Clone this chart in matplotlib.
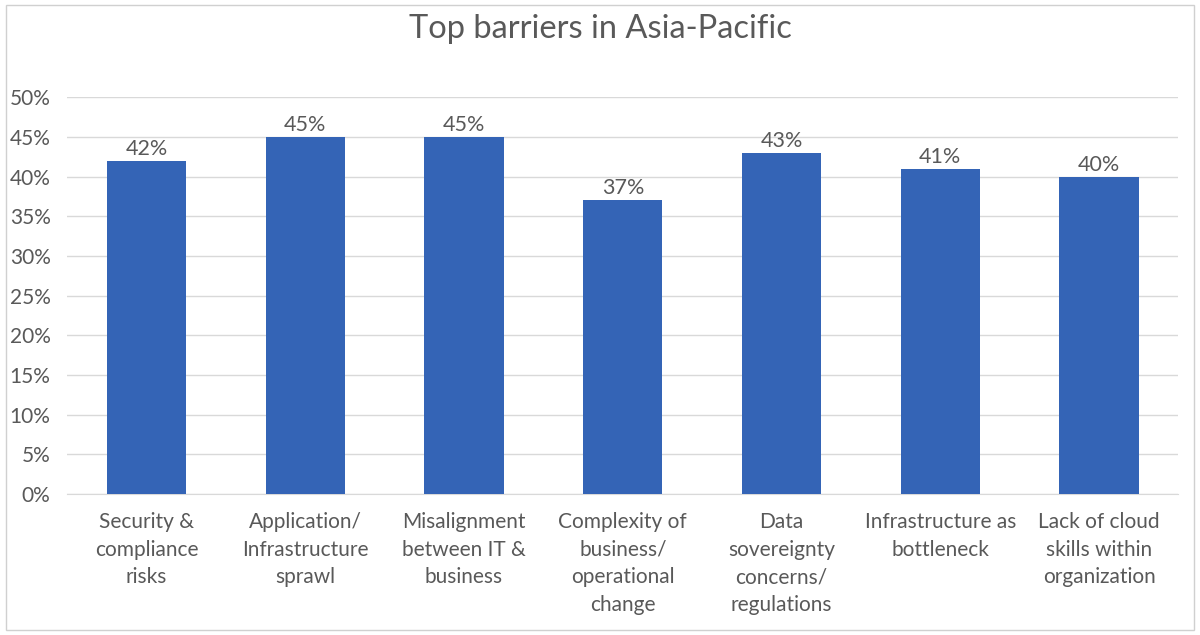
import matplotlib
matplotlib.use("Agg")
import matplotlib.pyplot as plt
from matplotlib.patches import Rectangle
from matplotlib.ticker import FuncFormatter

categories = [
    "Security &\ncompliance\nrisks",
    "Application/\nInfrastructure\nsprawl",
    "Misalignment\nbetween IT &\nbusiness",
    "Complexity of\nbusiness/\noperational\nchange",
    "Data\nsovereignty\nconcerns/\nregulations",
    "Infrastructure as\nbottleneck",
    "Lack of cloud\nskills within\norganization",
]
values = [42, 45, 45, 37, 43, 41, 40]

plt.rcParams['font.family'] = ['Lato', 'DejaVu Sans']
text_color = '#595959'

fig = plt.figure(figsize=(12, 6.35), dpi=100)
ax = fig.add_axes([0.056, 0.222, 0.926, 0.625])

x = range(len(categories))
ax.bar(x, values, width=0.5, color='#3464B6', zorder=3)
for xi, v in zip(x, values):
    ax.text(xi, v + 0.25, f"{v}%", ha='center', va='bottom', fontsize=15.5, color=text_color)

ax.set_xlim(-0.5, len(categories) - 0.5)
ax.set_ylim(0, 50)
ax.set_yticks(range(0, 51, 5))
ax.yaxis.set_major_formatter(FuncFormatter(lambda v, p: f"{int(v)}%"))
ax.set_xticks(list(x))
ax.set_xticklabels(categories, fontsize=15, color=text_color, linespacing=1.48)
ax.tick_params(axis='y', labelsize=15, labelcolor=text_color, length=0, pad=12)
ax.tick_params(axis='x', length=0, pad=13)
ax.grid(axis='y', color='#D9D9D9', linewidth=1, zorder=0)
for s in ['top', 'right', 'left']:
    ax.spines[s].set_visible(False)
ax.spines['bottom'].set_color('#D9D9D9')

fig.text(0.5, 0.955, "Top barriers in Asia-Pacific", ha='center', va='center',
         fontsize=23.5, color=text_color)

fig.patches.append(Rectangle((0.005, 0.008), 0.99, 0.984, transform=fig.transFigure,
                             fill=False, edgecolor='#D0D0D0', linewidth=1))

fig.savefig("out.png", dpi=100)
